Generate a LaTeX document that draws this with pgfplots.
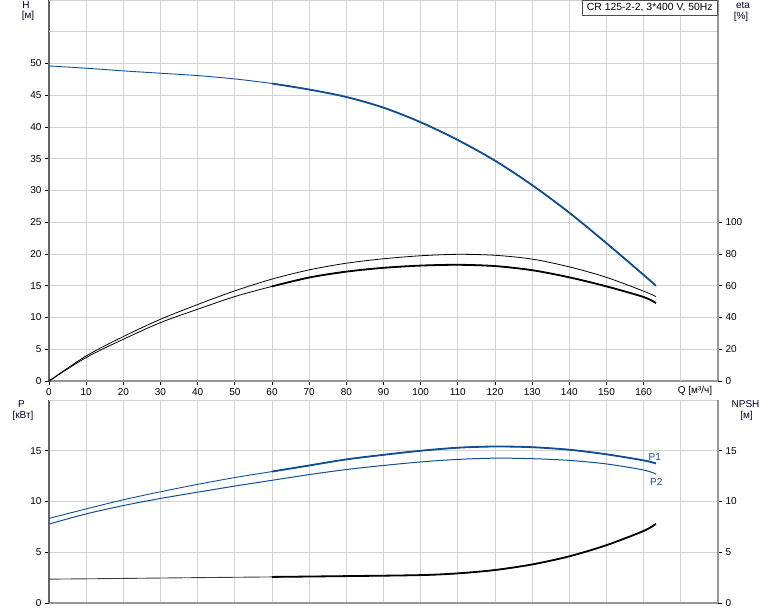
\documentclass[border=0pt]{standalone}
\usepackage{pgfplots}
\usepackage{pgfplotstable}
\pgfplotsset{compat=1.18}
\usepackage{fontspec}
\setmainfont{Liberation Sans}
\definecolor{hblue}{RGB}{16,78,145}
\definecolor{gridc}{RGB}{210,210,210}
\definecolor{axc}{RGB}{150,150,150}
\definecolor{axl}{RGB}{100,100,100}

\pgfplotstableread{
q h
0 49.62
10 49.26
20 48.84
30 48.47
40 48.1
50 47.57
60 46.85
70 45.9
80 44.73
90 43.05
100 40.75
110 37.95
120 34.7
130 30.85
140 26.5
150 21.7
160 16.7
163.3 15.0
}\Hdata

\pgfplotstableread{
q eta
0 0
10 15.8
20 28.0
30 38.9
40 48.2
50 56.8
60 64.2
70 70.0
80 74.2
90 77.0
100 78.9
110 79.8
120 79.2
130 76.8
140 71.9
150 65.3
160 56.6
163.3 53.2
}\EtaA

\pgfplotstableread{
q eta
0 0
10 14.8
20 26.3
30 36.8
40 45.2
50 53.2
60 59.6
70 65.2
80 68.9
90 71.3
100 72.7
110 73.2
120 72.4
130 69.8
140 65.3
150 59.6
160 52.9
163.3 49.1
}\EtaB

\pgfplotstableread{
q p
0 8.34
10 9.27
20 10.17
30 10.96
40 11.69
50 12.36
60 12.95
70 13.55
80 14.15
90 14.6
100 15.0
110 15.3
120 15.42
130 15.35
140 15.1
150 14.65
160 14.05
163.3 13.75
}\PA

\pgfplotstableread{
q p
0 7.78
10 8.78
20 9.6
30 10.3
40 10.92
50 11.52
60 12.09
70 12.65
80 13.15
90 13.55
100 13.9
110 14.15
120 14.27
130 14.22
140 14.05
150 13.7
160 13.1
163.3 12.71
}\PB

\pgfplotstableread{
q n
0 2.35
20 2.42
40 2.5
60 2.57
80 2.65
100 2.75
110 2.92
120 3.25
130 3.8
140 4.6
150 5.7
160 7.1
163.3 7.8
}\NPSH

\pgfplotsset{
  base/.style={
    scale only axis, width=669pt,
    font=\fontsize{10}{12}\selectfont,
    /pgf/number format/assume math mode=true,
    xmin=0, xmax=180,
    tick align=outside, major tick length=4pt,
    tick style={black, line width=0.7pt},
    grid=major, grid style={gridc, line width=0.9pt},
    clip=false,
  },
}

\begin{document}
\begin{tikzpicture}
\path[use as bounding box] (0pt,0pt) rectangle (774pt,-611pt);

% ---------------- top: H ----------------
\begin{axis}[base,
  at={(49pt,-381pt)}, anchor=south west, height=381pt,
  ymin=0, ymax=60,
  axis x line*=bottom, axis y line*=left,
  x axis line style={axc, line width=1.6pt, -},
  y axis line style={axl, line width=1.6pt, -},
  xtick={0,10,...,160},
  extra x ticks={170}, extra x tick labels={},
  extra x tick style={major tick length=0pt},
  ytick={0,5,...,50},
  extra y ticks={55,60}, extra y tick labels={},
  extra y tick style={major tick length=0pt},
]
\addplot[hblue, line width=0.9pt, smooth] table[x=q,y=h] {\Hdata};
\addplot[hblue, line width=1.8pt, smooth, restrict x to domain=60:170] table[x=q,y=h] {\Hdata};
\end{axis}

% ---------------- top: eta ----------------
\begin{axis}[base,
  at={(49pt,-381pt)}, anchor=south west, height=381pt,
  ymin=0, ymax=240, grid=none,
  axis x line=none, axis y line*=right,
  y axis line style={axc, line width=1.6pt, -},
  ytick={0,20,...,100},
]
\addplot[black, line width=0.8pt, smooth] table[x=q,y=eta] {\EtaA};
\addplot[black, line width=0.8pt, smooth] table[x=q,y=eta] {\EtaB};
\addplot[black, line width=1.8pt, smooth, restrict x to domain=60:170] table[x=q,y=eta] {\EtaB};
\end{axis}

% ---------------- bottom: P ----------------
\begin{axis}[base,
  at={(49pt,-603pt)}, anchor=south west, height=203pt,
  ymin=0, ymax=20,
  axis x line*=bottom, axis y line*=left,
  x axis line style={axc, line width=1.6pt, -},
  y axis line style={axl, line width=1.6pt, -},
  xtick={0,10,...,170}, xticklabels={},
  x tick style={draw=none},
  ytick={0,5,10,15},
  extra y ticks={20}, extra y tick labels={},
  extra y tick style={major tick length=0pt},
]
\addplot[hblue, line width=0.9pt, smooth] table[x=q,y=p] {\PA};
\addplot[hblue, line width=1.8pt, smooth, restrict x to domain=60:170] table[x=q,y=p] {\PA};
\addplot[hblue, line width=1pt, smooth] table[x=q,y=p] {\PB};
\node[hblue, font=\fontsize{10}{12}\selectfont] at (axis cs:163,14.4) {P1};
\node[hblue, font=\fontsize{10}{12}\selectfont] at (axis cs:163.4,11.9) {P2};
\end{axis}

% ---------------- bottom: NPSH ----------------
\begin{axis}[base,
  at={(49pt,-603pt)}, anchor=south west, height=203pt,
  ymin=0, ymax=20, grid=none,
  axis x line=none, axis y line*=right,
  y axis line style={axc, line width=1.6pt, -},
  ytick={0,5,10,15},
]
\addplot[black!75, line width=0.9pt, smooth] table[x=q,y=n] {\NPSH};
\addplot[black, line width=1.8pt, smooth, restrict x to domain=60:170] table[x=q,y=n] {\NPSH};
\end{axis}

% top border line of top axis
\draw[gridc, line width=0.9pt] (49pt,-0.45pt) -- (718pt,-0.45pt);

% labels
\begin{scope}[font=\fontsize{10}{12}\selectfont]
\node[text=black!85!blue] at (26pt,-5pt) {H};
\node[text=black!85!blue] at (28pt,-16pt) {[м]};
\node[text=black!85!blue] at (743pt,-5pt) {eta};
\node[text=black!85!blue] at (741pt,-17pt) {[\%]};
\node[text=black!85!blue] at (21.5pt,-404pt) {P};
\node[text=black!85!blue] at (23pt,-416pt) {[кВт]};
\node[text=black!85!blue] at (745.5pt,-404pt) {NPSH};
\node[text=black!85!blue] at (746.5pt,-416pt) {[м]};
\node at (695pt,-391pt) {Q [м³/ч]};
\node[draw=black!70, fill=white, line width=0.8pt, anchor=north east,
      inner xsep=5pt, inner ysep=2.4pt, text height=7.4pt, text depth=2pt,
      font=\fontsize{10.4}{12}\selectfont] at (718pt,-0.4pt) {CR 125-2-2, 3*400 V, 50Hz};
\end{scope}
\end{tikzpicture}
\end{document}
